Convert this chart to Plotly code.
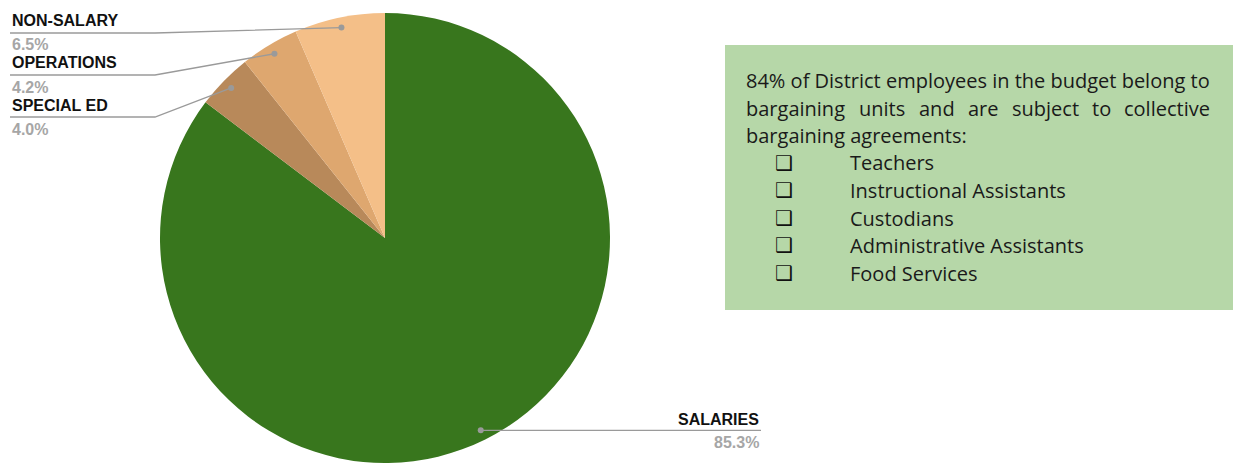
import math
import plotly.graph_objects as go

# Budget shares
categories = ["SALARIES", "SPECIAL ED", "OPERATIONS", "NON-SALARY"]
shares = [85.3, 4.0, 4.2, 6.5]
slice_colors = ["#38761d", "#b8895a", "#dea76f", "#f4bf88"]

note_intro = [
    "84% of District employees in the budget belong to",
    "bargaining units and are subject to collective",
    "bargaining agreements:",
]
note_items = ["Teachers", "Instructional Assistants", "Custodians",
              "Administrative Assistants", "Food Services"]

W, H = 1233, 463
CX, CY, R = 385, 238, 225


def px(x):
    return x / W


def py(y):
    return 1 - y / H


fig = go.Figure()
fig.add_trace(go.Pie(
    labels=categories,
    values=shares,
    sort=False,
    direction="clockwise",
    rotation=0,
    marker=dict(colors=slice_colors, line=dict(width=0)),
    textinfo="none",
    hoverinfo="label+percent",
    showlegend=False,
    domain=dict(x=[px(CX - R), px(CX + R)], y=[py(CY + R), py(CY - R)]),
))

shapes = []
annotations = []

# anchor point of each leader line: slice mid-angle, just inside the rim
total = sum(shares)
cum = 0
anchors = []
for v in shares:
    mid = (cum + v / 2) / total * 2 * math.pi
    cum += v
    ax = CX + 0.955 * R * math.sin(mid)
    ay = CY - 0.955 * R * math.cos(mid)
    anchors.append((ax, ay))

line_style = dict(color="#9a9a9a", width=1.3)

# label layout: (underline y, elbow x, label x, label y offset, value y offset, side)
label_pos = {
    "NON-SALARY": (33, 155, 10, -12.5, 11.5, "left"),
    "OPERATIONS": (75, 155, 10, -12.5, 12.5, "left"),
    "SPECIAL ED": (117, 155, 10, -11.5, 12, "left"),
    "SALARIES": (None, None, 761, -11, 12, "right"),
}

for name, v, (ax, ay) in zip(categories, shares, anchors):
    uy, ex, lx, ldy, vdy, side = label_pos[name]
    if side == "left":
        path = f"M {px(lx)} {py(uy)} L {px(ex)} {py(uy)} L {px(ax)} {py(ay)}"
    else:
        uy = ay
        path = f"M {px(ax)} {py(ay)} L {px(lx)} {py(uy)}"
    shapes.append(dict(type="path", xref="paper", yref="paper", path=path,
                       line=line_style, layer="above"))
    shapes.append(dict(type="circle", xref="paper", yref="paper",
                       x0=px(ax - 3), x1=px(ax + 3), y0=py(ay + 3), y1=py(ay - 3),
                       fillcolor="#9a9a9a", line=dict(width=0), layer="above"))
    anchor = "left" if side == "left" else "right"
    annotations.append(dict(text=f"<b>{name}</b>", x=px(lx), y=py(uy + ldy),
                            xref="paper", yref="paper", xanchor=anchor, yanchor="middle",
                            showarrow=False,
                            font=dict(family="Liberation Sans, Arial", size=16, color="#111111")))
    annotations.append(dict(text=f"<b>{v:.1f}%</b>", x=px(lx), y=py(uy + vdy),
                            xref="paper", yref="paper", xanchor=anchor, yanchor="middle",
                            showarrow=False,
                            font=dict(family="Liberation Sans, Arial", size=16, color="#a6a6a6")))

# note panel
shapes.append(dict(type="rect", xref="paper", yref="paper",
                   x0=px(725), x1=px(1233), y0=py(310), y1=py(45),
                   fillcolor="#b6d7a8", line=dict(width=0), layer="below"))

note_font = dict(family="Open Sans, Lato", size=20, color="#1a1a1a")
TX = 744
baselines = [87, 115, 142]
cap_mid = 7

annotations.append(dict(text=note_intro[0], x=px(TX), y=py(baselines[0] - cap_mid),
                        xref="paper", yref="paper", xanchor="left", yanchor="middle",
                        showarrow=False, font=note_font))
# justified second line
words = note_intro[1].split()
word_x = [744, 857, 917, 966, 1010, 1090]
for w, wx in zip(words[:-1], word_x):
    annotations.append(dict(text=w, x=px(wx), y=py(baselines[1] - cap_mid),
                            xref="paper", yref="paper", xanchor="left", yanchor="middle",
                            showarrow=False, font=note_font))
annotations.append(dict(text=words[-1], x=px(1212), y=py(baselines[1] - cap_mid),
                        xref="paper", yref="paper", xanchor="right", yanchor="middle",
                        showarrow=False, font=note_font))
annotations.append(dict(text=note_intro[2], x=px(TX), y=py(baselines[2] - cap_mid),
                        xref="paper", yref="paper", xanchor="left", yanchor="middle",
                        showarrow=False, font=note_font))

item_baselines = [170, 197, 225, 252, 280]
for item, b in zip(note_items, item_baselines):
    annotations.append(dict(text="<b>\u2751</b>", x=px(773), y=py(b - cap_mid),
                            xref="paper", yref="paper", xanchor="left", yanchor="middle",
                            showarrow=False,
                            font=dict(family="DejaVu Sans", size=20, color="#111111")))
    annotations.append(dict(text=item, x=px(848), y=py(b - cap_mid),
                            xref="paper", yref="paper", xanchor="left", yanchor="middle",
                            showarrow=False, font=note_font))

fig.update_layout(
    width=W, height=H,
    margin=dict(l=0, r=0, t=0, b=0),
    paper_bgcolor="white",
    plot_bgcolor="white",
    shapes=shapes,
    annotations=annotations,
)

fig.write_html("out.html")
